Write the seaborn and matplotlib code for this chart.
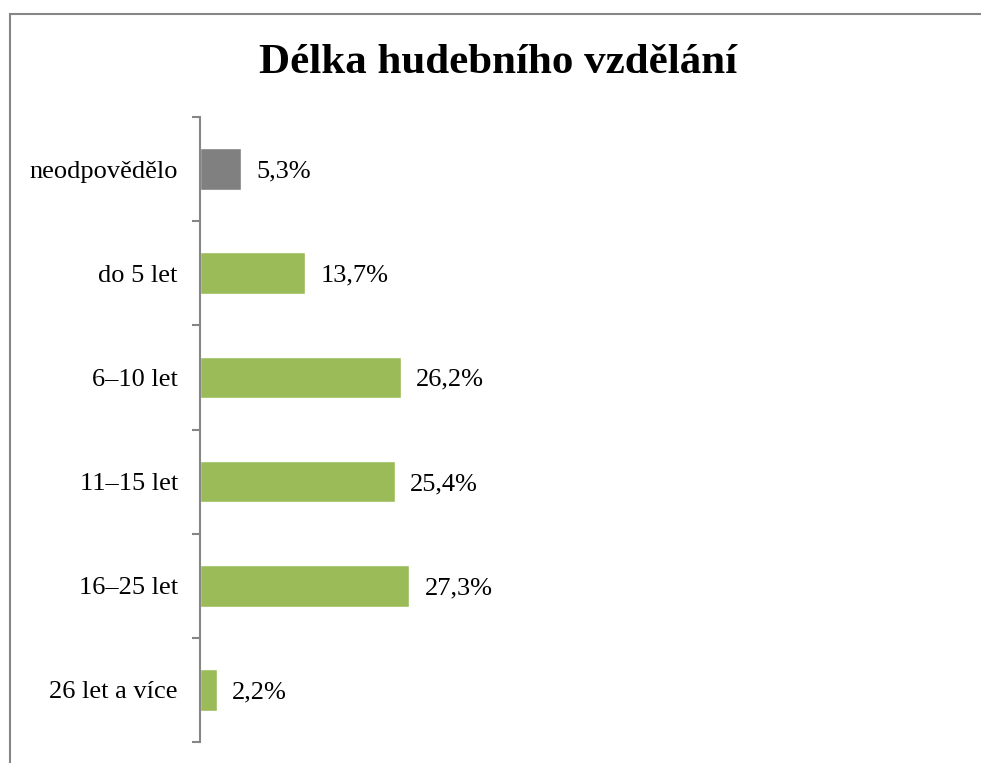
import pandas as pd
import matplotlib
matplotlib.use("Agg")
import matplotlib.pyplot as plt
import seaborn as sns
from matplotlib.patches import Rectangle

categories = ["neodpovědělo", "do 5 let", "6–10 let", "11–15 let", "16–25 let", "26 let a více"]
values = [5.3, 13.7, 26.2, 25.4, 27.3, 2.2]
colors = ["#808080", "#9BBB59", "#9BBB59", "#9BBB59", "#9BBB59", "#9BBB59"]
value_labels = ["5,3%", "13,7%", "26,2%", "25,4%", "27,3%", "2,2%"]

df = pd.DataFrame({"kategorie": categories, "podil": values})

sns.set_theme(style="white")
plt.rcParams["font.family"] = ["Liberation Serif", "DejaVu Serif"]
plt.rcParams["text.color"] = "black"
plt.rcParams["ytick.labelcolor"] = "black"

fig = plt.figure(figsize=(9.81, 7.63), dpi=100)
ax = fig.add_axes([200 / 981, 1 - 742 / 763, 766 / 981, (742 - 117) / 763])

sns.barplot(data=df, x="podil", y="kategorie", hue="kategorie", palette=colors,
            legend=False, width=0.4, saturation=1, ax=ax)

ax.set_xlim(0, 100)
ax.set_ylim(len(categories) - 0.5, -0.5)
ax.set_xlabel("")
ax.set_ylabel("")

# ticks between categories, labels at the centres
ax.set_yticks([i - 0.5 for i in range(len(categories) + 1)])
ax.set_yticklabels([])
ax.set_yticks(range(len(categories)), minor=True)
ax.set_yticklabels(categories, minor=True, fontsize=19, color="black")
ax.tick_params(axis="y", which="major", left=True, length=6, width=1.5, color="#868686")
ax.tick_params(axis="y", which="minor", left=True, length=0, pad=16)
ax.set_xticks([])

for side in ["top", "right", "bottom"]:
    ax.spines[side].set_visible(False)
ax.spines["left"].set_color("#868686")
ax.spines["left"].set_linewidth(1.5)

for i, (v, lab) in enumerate(zip(values, value_labels)):
    ax.annotate(lab, (v, i), xytext=(11, 0), textcoords="offset points",
                va="center_baseline", ha="left", fontsize=19, color="black")

fig.text(0.508, 1 - 63 / 763, "Délka hudebního vzdělání", ha="center", va="center",
         fontsize=31, fontweight="bold", color="black")

# chart frame (cut off on the right and bottom)
fig.patches.append(Rectangle((10 / 981, -0.1), 1.2, 1.1 - 14 / 763, transform=fig.transFigure,
                             fill=False, edgecolor="#868686", linewidth=1.5))

fig.savefig("out.png", dpi=100)
